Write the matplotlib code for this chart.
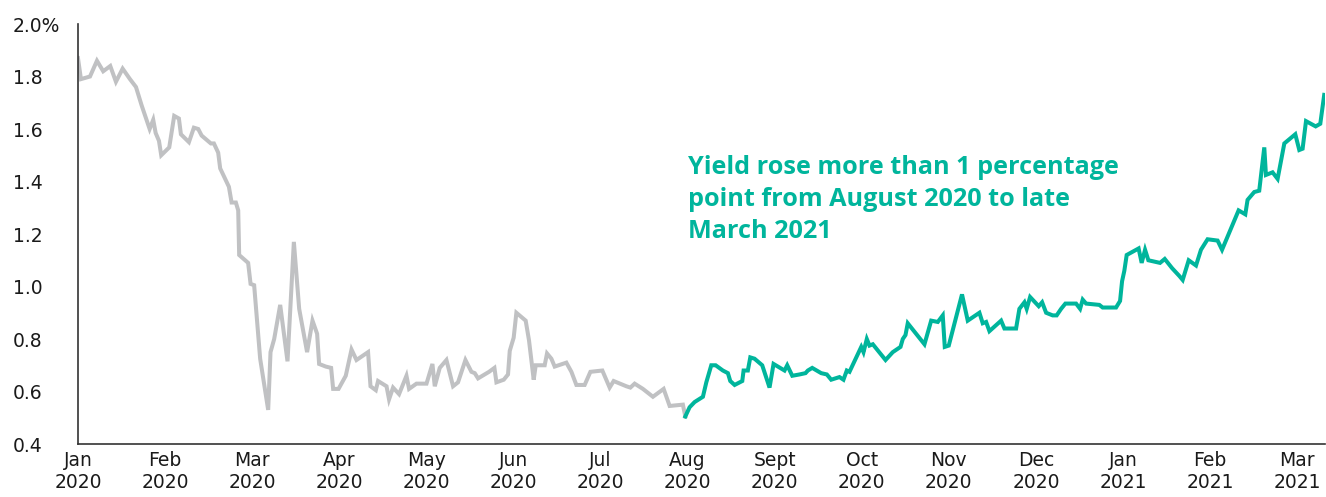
import matplotlib.pyplot as plt

# months since Jan 2020 (0 = Jan 2020, 14 = Mar 2021), yield in %
gray_t = [0.0, 0.034, 0.138, 0.218, 0.290, 0.371, 0.436, 0.513, 0.597, 0.666,
          0.731, 0.823, 0.864, 0.892, 0.930, 0.956, 1.048, 1.105, 1.159, 1.182,
          1.274, 1.331, 1.381, 1.420, 1.526, 1.561, 1.610, 1.633, 1.733, 1.764,
          1.813, 1.840, 1.851, 1.954, 1.982, 2.023, 2.092, 2.184, 2.211, 2.253,
          2.322, 2.406, 2.479, 2.540, 2.631, 2.693, 2.746, 2.769, 2.846, 2.907,
          2.930, 2.992, 3.075, 3.141, 3.198, 3.331, 3.359, 3.420, 3.446, 3.543,
          3.572, 3.618, 3.687, 3.772, 3.802, 3.887, 4.002, 4.070, 4.097, 4.154,
          4.231, 4.307, 4.364, 4.449, 4.518, 4.556, 4.594, 4.720, 4.782, 4.805,
          4.889, 4.938, 4.958, 5.003, 5.034, 5.141, 5.179, 5.233, 5.256, 5.359,
          5.386, 5.436, 5.474, 5.608, 5.666, 5.723, 5.818, 5.884, 6.021, 6.105,
          6.151, 6.297, 6.343, 6.392, 6.487, 6.602, 6.725, 6.794, 6.946, 6.974]
gray_y = [1.87, 1.79, 1.80, 1.86, 1.82, 1.84, 1.78, 1.83, 1.79, 1.76,
          1.69, 1.60, 1.635, 1.585, 1.555, 1.50, 1.53, 1.65, 1.64, 1.58,
          1.55, 1.605, 1.60, 1.575, 1.545, 1.545, 1.51, 1.45, 1.38, 1.32,
          1.32, 1.29, 1.12, 1.09, 1.01, 1.005, 0.725, 0.53, 0.75, 0.80,
          0.93, 0.715, 1.17, 0.915, 0.75, 0.87, 0.82, 0.705, 0.695, 0.69,
          0.61, 0.61, 0.66, 0.76, 0.72, 0.75, 0.62, 0.605, 0.64, 0.62,
          0.57, 0.615, 0.59, 0.66, 0.61, 0.63, 0.63, 0.705, 0.62, 0.69,
          0.72, 0.62, 0.635, 0.72, 0.675, 0.67, 0.65, 0.675, 0.69, 0.635,
          0.645, 0.665, 0.755, 0.805, 0.90, 0.87, 0.795, 0.645, 0.70, 0.70,
          0.745, 0.725, 0.695, 0.71, 0.675, 0.625, 0.625, 0.675, 0.68, 0.615,
          0.64, 0.62, 0.615, 0.63, 0.61, 0.58, 0.61, 0.545, 0.55, 0.505]

teal_t = [6.974, 7.023, 7.081, 7.176, 7.215, 7.272, 7.322, 7.405, 7.463, 7.490,
          7.540, 7.628, 7.643, 7.692, 7.720, 7.769, 7.857, 7.941, 7.987, 8.113,
          8.144, 8.202, 8.285, 8.354, 8.381, 8.431, 8.534, 8.599, 8.649, 8.744,
          8.790, 8.828, 8.859, 8.994, 9.020, 9.058, 9.089, 9.127, 9.273, 9.356,
          9.445, 9.471, 9.502, 9.528, 9.720, 9.797, 9.873, 9.930, 9.953, 9.999,
          10.151, 10.217, 10.351, 10.389, 10.428, 10.466, 10.600, 10.638, 10.772, 10.810,
          10.868, 10.894, 10.933, 11.032, 11.071, 11.117, 11.192, 11.238, 11.289, 11.338,
          11.461, 11.507, 11.537, 11.576, 11.728, 11.766, 11.920, 11.966, 11.989, 12.015,
          12.042, 12.179, 12.214, 12.253, 12.291, 12.425, 12.479, 12.563, 12.647, 12.685,
          12.754, 12.838, 12.895, 12.971, 13.086, 13.137, 13.327, 13.404, 13.430, 13.507,
          13.564, 13.622, 13.641, 13.717, 13.775, 13.852, 13.978, 14.024, 14.062, 14.101,
          14.212, 14.265, 14.310]
teal_y = [0.505, 0.54, 0.56, 0.58, 0.635, 0.70, 0.70, 0.68, 0.67, 0.64,
          0.625, 0.64, 0.68, 0.68, 0.73, 0.725, 0.70, 0.615, 0.705, 0.68,
          0.70, 0.66, 0.665, 0.67, 0.68, 0.69, 0.67, 0.665, 0.645, 0.655,
          0.645, 0.68, 0.675, 0.77, 0.75, 0.80, 0.775, 0.78, 0.72, 0.75,
          0.77, 0.80, 0.815, 0.86, 0.78, 0.87, 0.865, 0.89, 0.77, 0.775,
          0.97, 0.87, 0.90, 0.86, 0.865, 0.83, 0.87, 0.84, 0.84, 0.915,
          0.94, 0.915, 0.96, 0.925, 0.94, 0.90, 0.89, 0.89, 0.915, 0.935,
          0.935, 0.915, 0.95, 0.935, 0.93, 0.92, 0.92, 0.945, 1.02, 1.06,
          1.12, 1.145, 1.09, 1.14, 1.10, 1.09, 1.105, 1.07, 1.04, 1.025,
          1.10, 1.08, 1.14, 1.18, 1.175, 1.14, 1.29, 1.275, 1.33, 1.36,
          1.365, 1.53, 1.425, 1.435, 1.41, 1.545, 1.58, 1.52, 1.525, 1.63,
          1.61, 1.62, 1.73]

month_labels = ["Jan\n2020", "Feb\n2020", "Mar\n2020", "Apr\n2020", "May\n2020",
                "Jun\n2020", "Jul\n2020", "Aug\n2020", "Sept\n2020", "Oct\n2020",
                "Nov\n2020", "Dec\n2020", "Jan\n2021", "Feb\n2021", "Mar\n2021"]
y_ticks = [0.4, 0.6, 0.8, 1.0, 1.2, 1.4, 1.6, 1.8, 2.0]
y_labels = ["0.4", "0.6", "0.8", "1.0", "1.2", "1.4", "1.6", "1.8", "2.0%"]
note = "Yield rose more than 1 percentage\npoint from August 2020 to late\nMarch 2021"

GRAY = "#c0c1c3"
TEAL = "#00b59c"

plt.rcParams['font.family'] = ['DejaVu Sans']

fig = plt.figure(figsize=(13.26, 4.97), dpi=100)
ax = fig.add_axes([0.0588, 0.1066, 0.9405, 0.8451])

ax.plot(gray_t, gray_y, color=GRAY, lw=2.9, solid_joinstyle='miter')
ax.plot(teal_t, teal_y, color=TEAL, lw=2.9, solid_joinstyle='miter')

ax.set_xlim(0, 14.32)
ax.set_ylim(0.4, 2.0)

ax.set_xticks(range(len(month_labels)))
ax.set_xticklabels(month_labels, fontsize=13.5, color="#1a1a1a", linespacing=1.2)
ax.set_yticks(y_ticks)
ax.set_yticklabels(y_labels, fontsize=13.5, color="#1a1a1a", ha='left')
ax.tick_params(axis='y', length=0, pad=47)
ax.tick_params(axis='x', length=0, pad=5)

for s in ['top', 'right']:
    ax.spines[s].set_visible(False)
for s in ['left', 'bottom']:
    ax.spines[s].set_color("#333333")
    ax.spines[s].set_linewidth(1.2)

ax.text(7.0, 1.50, note, color=TEAL, fontsize=18.2, fontweight='bold',
        family=['Open Sans', 'DejaVu Sans'], va='top', ha='left', linespacing=1.36)

fig.savefig("out.png", dpi=100)
